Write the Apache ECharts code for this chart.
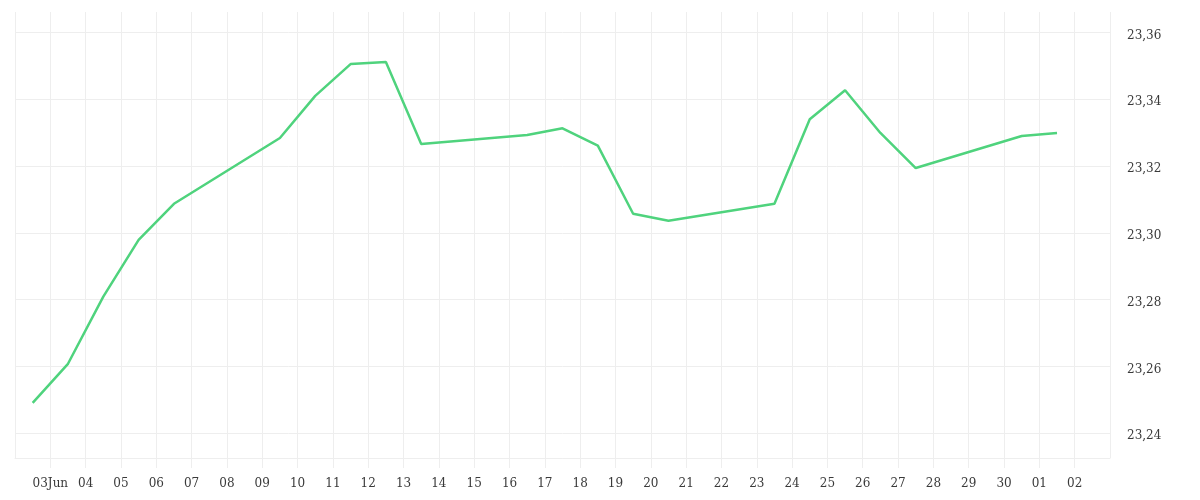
<!DOCTYPE html>
<html>
<head>
<meta charset="utf-8">
<script src="https://cdn.jsdelivr.net/npm/echarts@6/dist/echarts.min.js"></script>
<style>
  html, body { margin: 0; padding: 0; background: #fff; }
  #chart { width: 1200px; height: 500px; }
</style>
</head>
<body>
<div id="chart"></div>
<script>
// Trading days (one point per day, plotted at midday)
var dates = [
  '2025-06-02', '2025-06-03', '2025-06-04', '2025-06-05', '2025-06-06',
  '2025-06-09', '2025-06-10', '2025-06-11', '2025-06-12', '2025-06-13',
  '2025-06-16', '2025-06-17', '2025-06-18', '2025-06-19', '2025-06-20',
  '2025-06-23', '2025-06-24', '2025-06-25', '2025-06-26', '2025-06-27',
  '2025-06-30', '2025-07-01'
];
var rates = [
  23.2491, 23.2608, 23.2809, 23.2979, 23.3087,
  23.3284, 23.3410, 23.3505, 23.3511, 23.3266,
  23.3293, 23.3313, 23.3261, 23.3057, 23.3036,
  23.3087, 23.3340, 23.3427, 23.3299, 23.3194,
  23.3290, 23.3299
];
// one label per day boundary, starting 2 Jun
var xTickLabels = [
  '', '03Jun', '04', '05', '06', '07', '08', '09', '10', '11', '12',
  '13', '14', '15', '16', '17', '18', '19', '20', '21', '22',
  '23', '24', '25', '26', '27', '28', '29', '30', '01', '02', ''
];
var startDay = '2025-06-02';
var yMin = 23.2326, yMax = 23.3661;

function dayOffset(s) {
  var p = s.split('-'), q = startDay.split('-');
  return (Date.UTC(+p[0], p[1] - 1, +p[2]) - Date.UTC(+q[0], q[1] - 1, +q[2])) / 86400000;
}

var points = dates.map(function (d, i) { return [dayOffset(d) + 0.5, rates[i]]; });

var gridColor = '#eeeeee';
var font = { color: '#3a3a3a', fontSize: 12, fontFamily: 'DejaVu Serif' };

var c = echarts.init(document.getElementById('chart'), null, { renderer: 'canvas' });
c.setOption({
  animation: false,
  grid: { left: 15, right: 90, top: 12, bottom: 42, containLabel: false },
  xAxis: {
    type: 'value', min: 0, max: xTickLabels.length - 1, interval: 1,
    axisLine: { show: true, lineStyle: { color: gridColor } },
    axisTick: { show: true, length: 10, lineStyle: { color: gridColor } },
    splitLine: { show: true, lineStyle: { color: gridColor } },
    axisLabel: Object.assign({
      margin: 20, showMinLabel: false, showMaxLabel: false,
      formatter: function (v) { return xTickLabels[Math.round(v)] || ''; }
    }, font)
  },
  yAxis: {
    type: 'value', position: 'right', min: yMin, max: yMax, splitNumber: 7,
    axisLine: { show: false }, axisTick: { show: false },
    splitLine: { show: true, showMaxLine: false, lineStyle: { color: gridColor } },
    axisLabel: Object.assign({
      margin: 17, showMinLabel: false, showMaxLabel: false,
      formatter: function (v) { return '{v|' + v.toFixed(2).replace('.', ',') + '}'; },
      rich: { v: Object.assign({ padding: [6, 0, 0, 0] }, font) }
    }, font)
  },
  series: [{
    type: 'line', data: points, showSymbol: false, smooth: false,
    lineStyle: { color: '#4fd37d', width: 2.5 }
  }]
});
</script>
</body>
</html>
